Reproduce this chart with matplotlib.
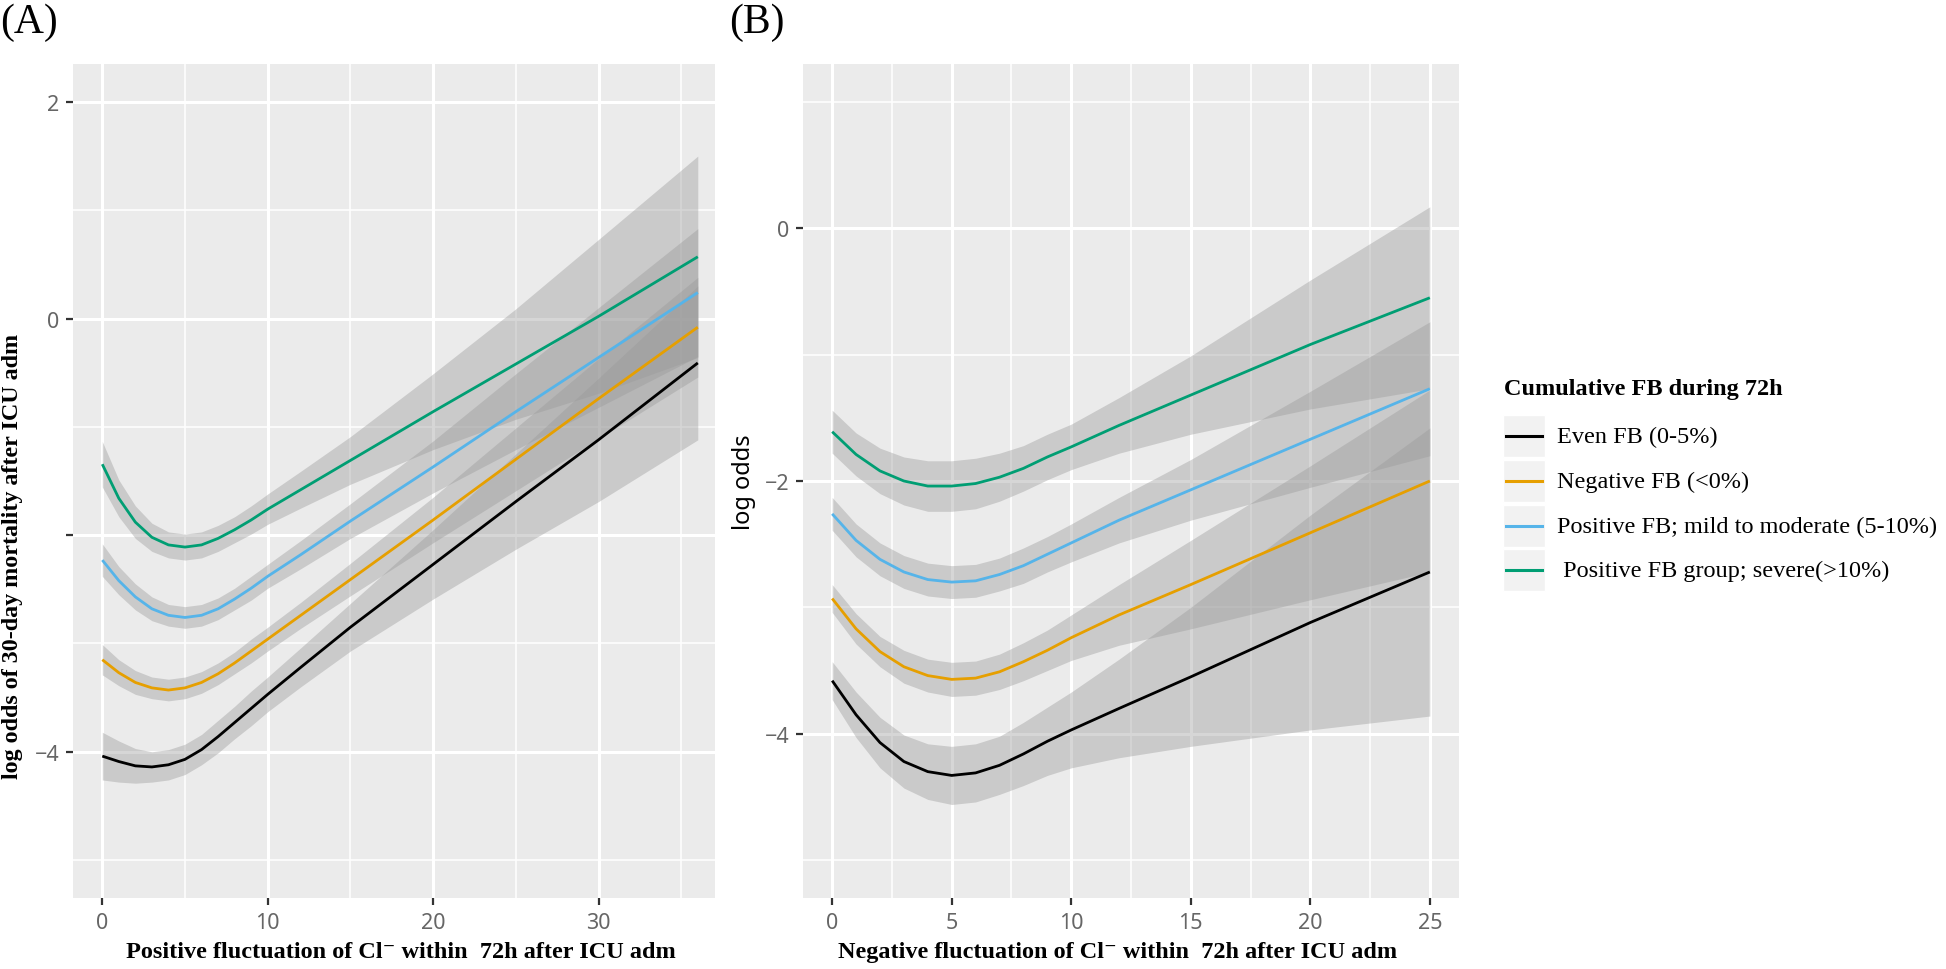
import numpy as np
import matplotlib.pyplot as plt
from matplotlib.patches import Rectangle
from matplotlib.lines import Line2D

######################
### DATA ###
######################

groups = ['Even FB (0-5%)', 'Negative FB (<0%)',
          'Positive FB; mild to moderate (5-10%)', ' Positive FB group; severe(>10%)']
colors = ['#000000', '#E69F00', '#56B4E9', '#009E73']

# Panel A : positive fluctuation of Cl-
x_a = [0, 1, 2, 3, 4, 5, 6, 7, 8, 9, 10, 12, 15, 20, 25, 30, 36]
a_even = [-4.04, -4.09, -4.13, -4.14, -4.12, -4.07, -3.98, -3.86, -3.73, -3.60, -3.47, -3.22, -2.85, -2.27, -1.69, -1.12, -0.41]
a_even_se = [0.22, 0.19, 0.16, 0.14, 0.14, 0.14, 0.14, 0.15, 0.15, 0.16, 0.16, 0.18, 0.22, 0.32, 0.44, 0.57, 0.71]
a_neg = [-3.15, -3.27, -3.36, -3.41, -3.43, -3.41, -3.36, -3.28, -3.18, -3.07, -2.96, -2.74, -2.41, -1.86, -1.30, -0.74, -0.08]
a_neg_se = [0.14, 0.12, 0.11, 0.10, 0.10, 0.10, 0.10, 0.10, 0.10, 0.11, 0.11, 0.12, 0.15, 0.21, 0.29, 0.37, 0.46]
a_mild = [-2.23, -2.42, -2.57, -2.68, -2.74, -2.76, -2.74, -2.68, -2.59, -2.49, -2.38, -2.18, -1.87, -1.37, -0.86, -0.36, 0.24]
a_mild_se = [0.15, 0.13, 0.12, 0.11, 0.10, 0.10, 0.10, 0.10, 0.10, 0.11, 0.11, 0.13, 0.16, 0.24, 0.35, 0.46, 0.59]
a_severe = [-1.345, -1.66, -1.88, -2.02, -2.09, -2.11, -2.09, -2.03, -1.95, -1.86, -1.76, -1.58, -1.31, -0.86, -0.42, 0.02, 0.57]
a_severe_se = [0.21, 0.17, 0.15, 0.13, 0.12, 0.12, 0.12, 0.12, 0.12, 0.13, 0.14, 0.17, 0.22, 0.35, 0.51, 0.71, 0.93]

# Panel B : negative fluctuation of Cl-
x_b = [0, 1, 2, 3, 4, 5, 6, 7, 8, 9, 10, 12, 15, 20, 25]
b_even = [-3.58, -3.85, -4.07, -4.22, -4.30, -4.33, -4.31, -4.25, -4.16, -4.06, -3.97, -3.80, -3.55, -3.12, -2.72]
b_even_se = [0.15, 0.18, 0.20, 0.21, 0.22, 0.23, 0.23, 0.23, 0.25, 0.27, 0.30, 0.39, 0.55, 0.85, 1.14]
b_neg = [-2.93, -3.17, -3.35, -3.47, -3.54, -3.57, -3.56, -3.51, -3.43, -3.34, -3.24, -3.06, -2.82, -2.41, -2.00]
b_neg_se = [0.11, 0.12, 0.12, 0.13, 0.13, 0.135, 0.135, 0.14, 0.15, 0.16, 0.18, 0.24, 0.35, 0.53, 0.72]
b_mild = [-2.26, -2.47, -2.62, -2.72, -2.78, -2.80, -2.79, -2.74, -2.67, -2.58, -2.49, -2.31, -2.07, -1.67, -1.27]
b_mild_se = [0.13, 0.13, 0.13, 0.13, 0.13, 0.13, 0.13, 0.13, 0.14, 0.14, 0.15, 0.18, 0.24, 0.38, 0.53]
b_severe = [-1.61, -1.79, -1.92, -2.00, -2.04, -2.04, -2.02, -1.97, -1.90, -1.81, -1.73, -1.56, -1.32, -0.92, -0.55]
b_severe_se = [0.17, 0.17, 0.18, 0.19, 0.20, 0.20, 0.20, 0.19, 0.18, 0.18, 0.18, 0.22, 0.31, 0.51, 0.72]

xlabel_a = 'Positive fluctuation of Cl\u207b within  72h after ICU adm'
xlabel_b = 'Negative fluctuation of Cl\u207b within  72h after ICU adm'
ylabel_a = 'log odds of 30-day mortality after ICU adm'
ylabel_b = 'log odds'
legend_title = 'Cumulative FB during 72h'

######################
### FIGURE ###
######################

W, H = 1946, 970
fig = plt.figure(figsize=(W / 100, H / 100), dpi=100)

serif = ['Liberation Serif', 'DejaVu Serif']
sans = ['Noto Sans', 'DejaVu Sans']


def fx(x):
    return x / W


def fy(y):
    return 1 - y / H


def style_axes(ax, xmaj, xmin, ymaj, ymin, xlim, ylim):
    ax.set_facecolor('#EBEBEB')
    for s in ax.spines.values():
        s.set_visible(False)
    ax.set_xlim(*xlim)
    ax.set_ylim(*ylim)
    ax.set_xticks(xmaj)
    ax.set_xticks(xmin, minor=True)
    ax.set_yticks(ymaj)
    ax.set_yticks(ymin, minor=True)
    ax.grid(which='major', color='white', lw=2.2)
    ax.grid(which='minor', color='white', lw=1.1)
    ax.set_axisbelow(True)
    ax.tick_params(which='major', length=5, width=1.6, color='#333333',
                   labelcolor='#666666', labelsize=15.5, pad=5)
    ax.tick_params(which='minor', length=0)
    for lab in ax.get_xticklabels() + ax.get_yticklabels():
        lab.set_family(sans)


def draw_groups(ax, x, ys, ses):
    # ribbon then line, group by group (later ribbons cover earlier lines)
    x = np.array(x)
    for y, se, c in zip(ys, ses, colors):
        y = np.array(y)
        se = np.array(se)
        ax.fill_between(x, y - se, y + se, color='#999999', alpha=0.4, lw=0)
        ax.plot(x, y, color=c, lw=2.0, solid_joinstyle='round', solid_capstyle='butt')


### PANEL A ###
ax_a = fig.add_axes([fx(73), fy(899), 642 / W, 834 / H])
style_axes(ax_a, [0, 10, 20, 30], [5, 15, 25, 35], [-4, -2, 0, 2], [-5, -3, -1, 1],
           (-1.77, 37.04), (-5.35, 2.35))
ax_a.set_yticklabels(['\u22124', '', '0', '2'])
draw_groups(ax_a, x_a, [a_even, a_neg, a_mild, a_severe],
            [a_even_se, a_neg_se, a_mild_se, a_severe_se])

### PANEL B ###
ax_b = fig.add_axes([fx(803), fy(899), 656 / W, 834 / H])
style_axes(ax_b, [0, 5, 10, 15, 20, 25], [2.5, 7.5, 12.5, 17.5, 22.5], [-4, -2, 0], [-5, -3, -1, 1],
           (-1.22, 26.22), (-5.30, 1.30))
draw_groups(ax_b, x_b, [b_even, b_neg, b_mild, b_severe],
            [b_even_se, b_neg_se, b_mild_se, b_severe_se])

### LABELS ###
fig.text(fx(0), fy(23), '(A)', family=serif, fontsize=30, ha='left', va='center')
fig.text(fx(729), fy(23), '(B)', family=serif, fontsize=30, ha='left', va='center')

fig.text(fx(401), fy(953), xlabel_a, family=serif, weight='bold', fontsize=17.5,
         ha='center', va='center')
fig.text(fx(1118), fy(953), xlabel_b, family=serif, weight='bold', fontsize=17.5,
         ha='center', va='center')
fig.text(fx(13), fy(556), ylabel_a, family=serif, weight='bold', fontsize=17.3,
         rotation=90, ha='center', va='center')
fig.text(fx(744), fy(482), ylabel_b, family=sans, fontsize=17,
         rotation=90, ha='center', va='center')

### LEGEND (ggplot style keys) ###
fig.text(fx(1504), fy(390), legend_title, family=serif, weight='bold', fontsize=17.5,
         ha='left', va='center')
row_y = [437, 482, 527, 571]
for lab, c, yy in zip(groups, colors, row_y):
    fig.add_artist(Rectangle((fx(1503), fy(yy + 21)), 42 / W, 42 / H,
                             transform=fig.transFigure, facecolor='#F2F2F2', edgecolor='white', lw=1))
    fig.add_artist(Line2D([fx(1506), fx(1542)], [fy(yy), fy(yy)],
                          transform=fig.transFigure, color=c, lw=2.2))
    fig.text(fx(1557), fy(yy), lab, family=serif, fontsize=17.5, ha='left', va='center')

fig.savefig('out.png', dpi=100)
